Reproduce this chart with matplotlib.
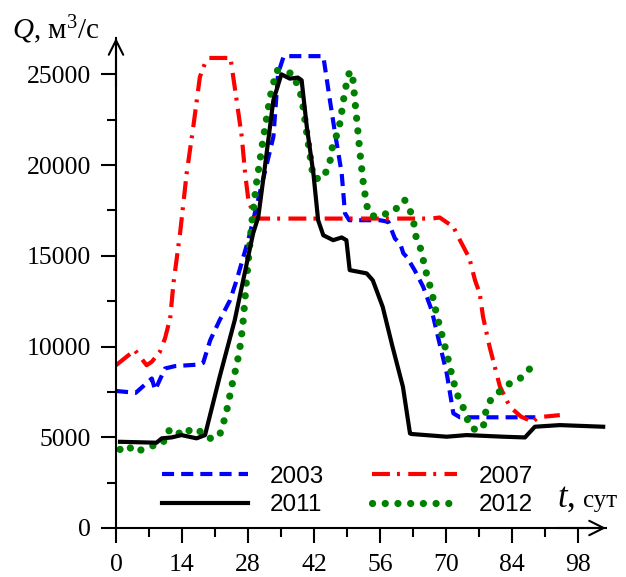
import matplotlib
matplotlib.use("Agg")
import matplotlib.pyplot as plt

plt.rcParams['font.family'] = ['Liberation Serif', 'DejaVu Serif']
plt.rcParams['mathtext.fontset'] = 'custom'
plt.rcParams['mathtext.it'] = 'Liberation Serif:italic'
plt.rcParams['mathtext.rm'] = 'Liberation Serif'

# 2003
d2003 = [0, 4.2, 7.6, 8.3, 10.4, 12.5, 17.8, 18.5, 20, 22, 24.2, 25.6, 28.1, 29.8, 33.4, 34.4,
         35.6, 44, 45.4, 46.5, 47.9, 48.6, 49.5, 56, 57.8, 59.2, 60.3, 61, 61.7, 63.4, 65.2, 67,
         68, 70.2, 71.6, 73, 89]
q2003 = [7550, 7450, 8240, 7600, 8790, 8920, 9010, 9100, 10350, 11450, 12550, 13650, 15900, 17690,
         21550, 25040, 26000, 26000, 23570, 21740, 19550, 17340, 16960, 16960, 16870, 15950, 15680,
         15130, 14940, 14200, 13290, 12000, 10900, 8520, 6320, 6100, 6100]
# 2007
d2007 = [0, 4, 6.5, 7.6, 9.3, 10.4, 11.5, 12.2, 13.6, 15, 16.4, 17.8, 18.9, 19.6, 24.3, 25.6,
         26.7, 27.4, 28.1, 29.5, 67, 68.7, 71.6, 73, 75, 76.2, 77.2, 77.9, 79.3, 81.5, 83.6, 86,
         88.5, 89.5, 94.2]
q2007 = [8970, 9800, 8970, 9160, 9700, 10450, 11560, 13500, 16240, 19550, 22100, 24850, 25620,
         25900, 25900, 23570, 21550, 19550, 18060, 17050, 17050, 17110, 16590, 15860, 14870, 13650,
         12920, 11640, 9980, 7780, 6680, 6130, 5850, 6100, 6220]
# 2011
d2011 = [0.85, 8.6, 9.7, 11.8, 13.9, 17.1, 18.9, 22, 25.2, 29.1, 30.2, 31.6, 33.4, 35.1, 36.9,
         38.6, 39.4, 40.5, 41.9, 42.9, 44, 46.1, 47.9, 48.9, 49.6, 53.2, 54.5, 56.6, 58.7, 60.9,
         62.4, 62.7, 70.2, 74.4, 82.2, 86.8, 88.9, 94.2, 103.4]
q2011 = [4750, 4700, 4940, 4990, 5120, 4940, 5120, 8330, 11450, 16230, 17140, 19900, 23570, 25000,
         24760, 24820, 24670, 22100, 19530, 16960, 16130, 15860, 16010, 15860, 14210, 14030, 13650,
         12190, 9980, 7780, 5210, 5180, 5030, 5120, 5030, 4990, 5580, 5670, 5580]
# 2012
d2012 = [0.85, 2.4, 4, 6.2, 8.3, 10, 10.7, 12.5, 13.9, 15.7, 17.2, 18.9, 20.6, 22, 23.3, 24.7,
         25.7, 26.5, 27, 27.7, 28.8, 29.8, 31.2, 32.7, 34.1, 35.5, 37.6, 39.4, 40.5, 41.9, 44,
         45.4, 46.1, 47.2, 47.9, 48.6, 49.6, 50.3, 50.7, 51.8, 52.5, 53.2, 53.9, 55.7, 57.4, 59.2,
         60.3, 61.3, 62.4, 63.1, 63.8, 64.8, 65.5, 67, 68, 69.1, 70.2, 71.2, 72.3, 73.5, 74.4,
         75.1, 76.4, 77.9, 78.6, 79.7, 81.8, 83.6, 85.3, 87.1, 88.2]
q2012 = [4330, 4570, 4170, 4390, 4570, 4660, 5300, 5490, 5080, 5400, 5490, 5030, 4900, 5120, 6220,
         7970, 9070, 10260, 11450, 13650, 16780, 18980, 21370, 23750, 25220, 25130, 25040, 23750,
         21740, 19260, 19260, 20170, 21270, 21820, 22920, 24120, 25180, 24670, 23570, 20630, 18980,
         17790, 17240, 17140, 17330, 17470, 17970, 18060, 17510, 16960, 15860, 15310, 14390, 13010,
         11820, 10720, 9620, 8520, 7420, 6770, 6130, 5580, 5400, 5490, 6590, 7140, 7600, 7970,
         8150, 8520, 8920]

xticks = [0, 14, 28, 42, 56, 70, 84, 98]
yticks = [0, 5000, 10000, 15000, 20000, 25000]

fig = plt.figure(figsize=(6.26, 5.77), dpi=100)
ax = fig.add_axes([116/626, 49/577, 490/626, 490/577])

l03, = ax.plot(d2003, q2003, color='#0000ff', lw=3, ls=(0, (2.9, 1.7)), label='2003')
l07, = ax.plot(d2007, q2007, color='#ff0000', lw=3, ls=(0, (4.3, 1.7, 0.7, 2.0)), label='2007')
l12, = ax.plot(d2012, q2012, color='#008000', lw=5.2, ls=(0, (0.01, 1.75)),
               dash_capstyle='round', label='2012')
l11, = ax.plot(d2011, q2011, color='black', lw=3, label='2011')

ax.set_xlim(0, 104)
ax.set_ylim(0, 27000)
ax.set_xticks(xticks)
ax.set_yticks(yticks)
ax.set_xticks([v for v in range(7, 104, 7) if v % 14], minor=True)
ax.set_yticks([2500 + 5000 * i for i in range(5)], minor=True)
ax.tick_params(which='major', length=11, width=1.5, labelsize=18.5, direction='out')
ax.tick_params(which='minor', length=6.5, width=1.5, direction='out')
ax.tick_params(axis='y', pad=7)
ax.tick_params(axis='x', pad=8)

for s in ['top', 'right']:
    ax.spines[s].set_visible(False)
for s in ['left', 'bottom']:
    ax.spines[s].set_linewidth(1.5)

ax.annotate('', xy=(1.0, 0), xytext=(0.9, 0), xycoords='axes fraction',
            arrowprops=dict(arrowstyle='->', lw=1.5, color='k', mutation_scale=26,
                            shrinkA=0, shrinkB=0))
ax.annotate('', xy=(0, 1.0), xytext=(0, 0.9), xycoords='axes fraction',
            arrowprops=dict(arrowstyle='->', lw=1.5, color='k', mutation_scale=26,
                            shrinkA=0, shrinkB=0))

fig.text(12/626, 1 - 30/577, r'$Q$, м$^3$/с', fontsize=21, va='center', ha='left')
fig.text(557/626, 1 - 507/577, r'$t$,', fontsize=25, va='baseline', ha='left')
fig.text(583/626, 1 - 507/577, 'сут', fontsize=18, va='baseline', ha='left')

leg = ax.legend(handles=[l03, l11, l07, l12], ncol=2, frameon=False,
                loc='center', bbox_to_anchor=(348/626, 1 - 491/577),
                bbox_transform=fig.transFigure,
                prop={'family': 'Liberation Sans', 'size': 17.5},
                handlelength=3.5, handletextpad=0.9, columnspacing=2.0,
                labelspacing=0.25)

fig.savefig('out.png', dpi=100)
